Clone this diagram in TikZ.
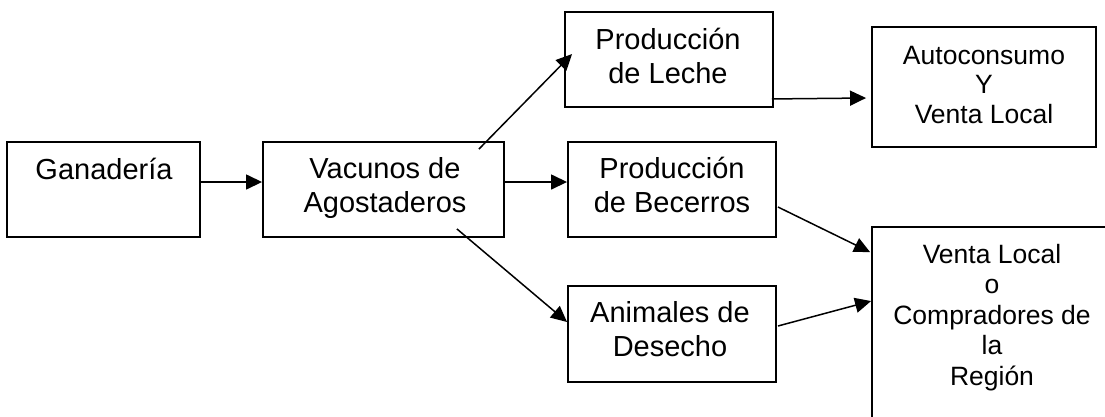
\documentclass[tikz,border=0pt]{standalone}
\usepackage{fontspec}
\setmainfont{Liberation Sans}
\usetikzlibrary{arrows.meta,calc}
\begin{document}
\begin{tikzpicture}[x=1pt,y=-1pt,
  boxst/.style={draw=black,line width=1.9pt,rectangle,inner sep=0pt},
  bigtxt/.style={align=center,anchor=base,inner sep=0pt,font=\fontsize{29}{33.5}\selectfont},
  smalltxt/.style={align=center,anchor=base,inner sep=0pt,font=\fontsize{26.5}{30.5}\selectfont},
  arr/.style={line width=1.5pt,-{Triangle[length=16pt,width=15pt]}}]
\useasboundingbox[fill=white] (0,0) rectangle (1105,416);
\clip (0,0) rectangle (1105,416);
% boxes
\node[boxst,minimum width=193pt,minimum height=95pt] (gan) at (103.5,189.5) {};
\node[boxst,minimum width=241pt,minimum height=95pt] (vac) at (383.5,189.5) {};
\node[boxst,minimum width=208pt,minimum height=95pt] (lec) at (669,59.5) {};
\node[boxst,minimum width=224pt,minimum height=120pt] (aut) at (984,87) {};
\node[boxst,minimum width=208pt,minimum height=95pt] (bec) at (672,189.5) {};
\node[boxst,minimum width=208pt,minimum height=96pt] (ani) at (672,334) {};
\node[boxst,minimum width=240pt,minimum height=213pt] (ven) at (992,333.5) {};
% texts (anchor = baseline of last line)
\node[bigtxt] (tgan) at (104,179) {Ganadería};
\node[bigtxt] (tvac) at (385,212) {Vacunos de\\Agostaderos};
\node[bigtxt] (tlec) at (668,83) {Producción\\de Leche};
\node[bigtxt] (tbec) at (672,212) {Producción\\de Becerros};
\node[bigtxt] (tani) at (670,356) {Animales de\\Desecho};
\node[smalltxt,font=\fontsize{26.5}{29.5}\selectfont] (taut) at (984,123) {Autoconsumo\\Y\\Venta Local};
\node[smalltxt] (tven) at (992,385) {Venta Local\\o\\Compradores de\\la\\Región};
% connectors
\draw[arr] ($(gan.east)+(0,-7.5)$) -- ($(vac.west)+(0,-7.5)$);
\draw[arr] ($(vac.north east)+(-26,8)$) -- ($(lec.north west)+(8,43)$);
\draw[arr] ($(vac.east)+(0,-7.5)$) -- ($(bec.west)+(0,-7.5)$);
\draw[arr] ($(vac.south east)+(-48,-9)$) -- ($(ani.west)+(0,-12)$);
\draw[arr] ($(lec.south east)+(-2,-9)$) -- ($(aut.west)+(-5,11)$);
\draw[arr] ($(bec.east)+(1,17.5)$) -- ($(ven.north west)+(-1,26)$);
\draw[arr] ($(ani.east)+(1,-8)$) -- ($(ven.north west)+(0,75)$);
\end{tikzpicture}
\end{document}
